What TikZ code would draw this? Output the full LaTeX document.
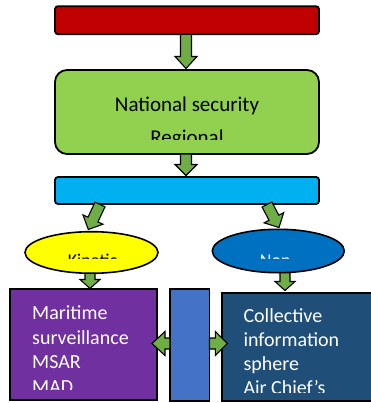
\documentclass[tikz,border=0pt]{standalone}
\usepackage{fontspec}
\setmainfont{Carlito}
\usetikzlibrary{calc,shapes.geometric}
\definecolor{cred}{HTML}{C00000}
\definecolor{cgreen}{HTML}{92D050}
\definecolor{ccyan}{HTML}{00B0F0}
\definecolor{cyellow}{HTML}{FFFF00}
\definecolor{cblue}{HTML}{0070C0}
\definecolor{cpurple}{HTML}{7030A0}
\definecolor{cmid}{HTML}{4472C4}
\definecolor{cnavy}{HTML}{1F4E79}
\definecolor{carrow}{HTML}{70AD47}
\tikzset{
  box/.style={draw=black, line width=1.8pt, inner sep=0pt},
  oval/.style={ellipse, draw=black, line width=1.6pt, inner sep=0pt},
  barrow/.style={draw=black, fill=carrow, line width=1.1pt, line join=miter},
  bigtxt/.style={inner sep=0pt, font={\fontsize{21}{25}\selectfont}},
  boxtxt/.style={inner sep=0pt, anchor=base west, text=white, font={\fontsize{20}{24}\selectfont}},
  ovaltxt/.style={inner sep=0pt, font={\fontsize{18}{21}\selectfont}}
}
\newcommand\blockarr[5]{%
  \coordinate (bh) at ($(#2)!#5!(#1)$);
  \draw[barrow] ($(#1)!#3!90:(#2)$) -- ($(bh)!#3!90:(#2)$) -- ($(bh)!#4!90:(#2)$) -- (#2)
     -- ($(bh)!#4!-90:(#2)$) -- ($(bh)!#3!-90:(#2)$) -- ($(#1)!#3!-90:(#2)$) -- cycle;
}
\begin{document}
\begin{tikzpicture}[x=1pt,y=-1pt]
\useasboundingbox[fill=white] (0,0) rectangle (370,403);
% boxes
\node[box, fill=cred, rounded corners=3pt, minimum width=264pt, minimum height=28pt] (red) at (187,20.2) {};
\node[box, fill=cgreen, rounded corners=12pt, minimum width=264pt, minimum height=84pt] (green) at (187,112) {};
\node[box, fill=ccyan, rounded corners=3pt, minimum width=264pt, minimum height=27pt] (bar) at (187,190.5) {};
\node[oval, fill=cyellow, minimum width=133pt, minimum height=41.6pt] (kin) at (91.5,252.5) {};
\node[oval, fill=cblue, minimum width=132pt, minimum height=43.4pt] (non) at (278.3,251) {};
\node[box, fill=cpurple, minimum width=147pt, minimum height=111pt] (pur) at (83.5,344.5) {};
\node[box, fill=cmid, minimum width=39.5pt, minimum height=112pt] (mid) at (189.75,345) {};
\node[box, fill=cnavy, minimum width=158pt, minimum height=108.3pt] (navy) at (301.3,346.85) {};
% texts
\begin{scope}
\clip (56,71) rectangle (318,139.5);
\node[bigtxt, anchor=base] (t1) at (187,111.8) {National security};
\node[bigtxt, anchor=base] (t2) at (187,144.2) {Regional};
\end{scope}
\begin{scope}
\clip (30,240) rectangle (150,258);
\node[ovaltxt, anchor=base] (t3) at (92.5,266.6) {Kinetic};
\end{scope}
\begin{scope}
\clip (220,240) rectangle (340,258);
\node[ovaltxt, anchor=base, text=white] (t4) at (278,266.6) {Non-};
\end{scope}
\begin{scope}
\clip (11,290) rectangle (156,389);
\node[boxtxt] (t5) at (32,319.5) {Maritime};
\node[boxtxt] (t6) at (32,344.2) {surveillance};
\node[boxtxt] (t7) at (32,368.9) {MSAR};
\node[boxtxt] (t8) at (32,393.6) {MAD};
\end{scope}
\begin{scope}
\clip (223,294) rectangle (370,392.5);
\node[boxtxt] (t9) at (243.3,322.2) {Collective};
\node[boxtxt] (t10) at (243.3,346.3) {information};
\node[boxtxt] (t11) at (243.3,370.4) {sphere};
\node[boxtxt] (t12) at (243.3,394.5) {Air Chief’s};
\end{scope}
% arrow end points
\coordinate (a1s) at (186,34.3);   \coordinate (a1e) at (186,68.5);
\coordinate (a2s) at (186,154);    \coordinate (a2e) at (186,175.5);
\coordinate (a3s) at (100,204.5);  \coordinate (a3e) at (88.3,229.5);
\coordinate (a4s) at (267,204.5);  \coordinate (a4e) at (279,227.5);
\coordinate (a5s) at (90,273.3);   \coordinate (a5e) at (90,288.5);
\coordinate (a6s) at (285,272.7);  \coordinate (a6e) at (285,290.5);
\coordinate (a7s) at (170,343.5);  \coordinate (a7e) at (152,343.5);
\coordinate (a8s) at (209.5,343.5);\coordinate (a8e) at (227.3,343.5);
\blockarr{a1s}{a1e}{5.5pt}{11pt}{12pt}
\blockarr{a2s}{a2e}{5.5pt}{11pt}{11pt}
\blockarr{a3s}{a3e}{5.5pt}{11pt}{11pt}
\blockarr{a4s}{a4e}{5.5pt}{11pt}{11pt}
\blockarr{a5s}{a5e}{5pt}{10pt}{9pt}
\blockarr{a6s}{a6e}{5pt}{10pt}{9pt}
\blockarr{a7s}{a7e}{5.5pt}{12pt}{13pt}
\blockarr{a8s}{a8e}{5.5pt}{12pt}{12pt}
\end{tikzpicture}
\end{document}
